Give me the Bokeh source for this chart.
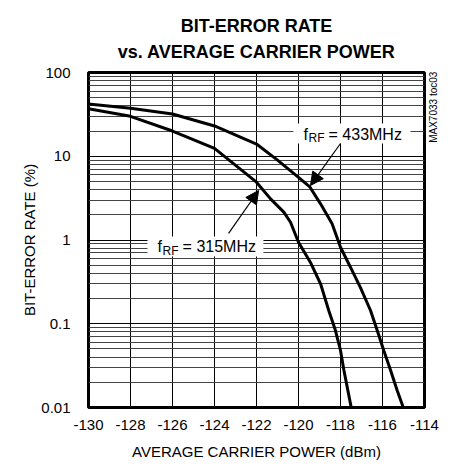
from bokeh.plotting import figure
from bokeh.models import (Range1d, FixedTicker, Label, Arrow, NormalHead, BoxAnnotation,
                          ColumnDataSource, Title, LinearAxis)
from bokeh.embed import file_html
from bokeh.resources import INLINE

# ---- data ----
power_315 = [-130, -128, -126, -124, -122, -121.33, -120.7, -120.38, -120.0, -119.43,
             -118.95, -118.56, -118.24, -118.0, -117.84, -117.65, -117.49]
ber_315 = [37, 30, 20, 12.4, 4.9, 3.1, 2.15, 1.63, 0.94, 0.54,
           0.30, 0.144, 0.083, 0.048, 0.028, 0.016, 0.01]

power_433 = [-130, -128, -126, -124, -122, -121, -120, -119.46, -118.95, -118.4,
             -118.0, -117.52, -117.05, -116.57, -116.25, -115.94, -115.62, -115.3, -115.01]
ber_433 = [42, 37.5, 32, 23, 14, 9.0, 5.6, 4.3, 2.7, 1.56,
           0.82, 0.47, 0.27, 0.144, 0.083, 0.048, 0.028, 0.016, 0.01]

x_ticks = [-130, -128, -126, -124, -122, -120, -118, -116, -114]
x_tick_labels = ["-130", "-128", "-126", "-124", "-122", "-120", "-118", "-116", "-114"]
y_ticks = [0.01, 0.1, 1, 10, 100]
y_tick_labels = ["0.01", "0.1", "1", "10", "100"]
y_minor = [m * d for d in [0.01, 0.1, 1, 10] for m in range(2, 10)]
title_lines = ["BIT-ERROR RATE", "vs. AVERAGE CARRIER POWER"]

FONT = "Liberation Sans"

p = figure(frame_width=336, frame_height=335,
           x_range=Range1d(-130, -114), y_range=Range1d(0.01, 100),
           y_axis_type="log", output_backend="svg", toolbar_location=None,
           min_border_left=88, min_border_right=16, min_border_top=72, min_border_bottom=55)
p.title = None

p.background_fill_color = "white"
p.border_fill_color = "white"
p.outline_line_color = "black"
p.outline_line_width = 3

# title
title_style = dict(align="center", text_font=FONT, text_font_size="18px",
                   text_font_style="bold", text_color="black")
if "text_align" in Title.properties():
    t = Title(text="\n".join(title_lines), standoff=17, text_line_height=1.28,
              vertical_align="top", **title_style)
    t.text_align = "center"
    p.add_layout(t, "above")
else:
    p.add_layout(Title(text=title_lines[1], standoff=27, **title_style), "above")
    p.add_layout(Title(text=title_lines[0], standoff=-4, **title_style), "above")

# axes
p.xaxis.ticker = FixedTicker(ticks=x_ticks)
p.xaxis.major_label_overrides = {v: s for v, s in zip(x_ticks, x_tick_labels)}
p.yaxis.ticker = FixedTicker(ticks=y_ticks, minor_ticks=y_minor)
p.yaxis.major_label_overrides = {v: s for v, s in zip(y_ticks, y_tick_labels)}
for ax in (p.xaxis[0], p.yaxis[0]):
    ax.axis_line_color = None
    ax.major_tick_line_color = None
    ax.minor_tick_line_color = None
    ax.major_label_text_font = FONT
    ax.major_label_text_font_size = "15px"
    ax.major_label_text_color = "black"
    ax.axis_label_text_font = FONT
    ax.axis_label_text_font_size = "15px"
    ax.axis_label_text_font_style = "normal"
    ax.axis_label_text_color = "black"
p.xaxis.axis_label = "AVERAGE CARRIER POWER (dBm)"
p.yaxis.axis_label = "BIT-ERROR RATE (%)"
p.xaxis.major_label_standoff = 6
p.yaxis.major_label_standoff = 12
p.xaxis.axis_label_standoff = 10
p.yaxis.axis_label_standoff = 0

# grids
p.xgrid.grid_line_color = "black"
p.xgrid.grid_line_width = 1
p.ygrid.grid_line_color = "black"
p.ygrid.grid_line_width = 1
p.ygrid.minor_grid_line_color = "#444444"
p.ygrid.minor_grid_line_width = 1

# white label boxes
p.add_layout(BoxAnnotation(left=-120.24, right=-114.67, bottom=14.2, top=24.6,
                           fill_color="white", fill_alpha=1, line_color=None))
p.add_layout(BoxAnnotation(left=-127.19, right=-121.67, bottom=0.635, top=1.10,
                           fill_color="white", fill_alpha=1, line_color=None))

# curves
src315 = ColumnDataSource(dict(x=power_315, y=ber_315))
src433 = ColumnDataSource(dict(x=power_433, y=ber_433))
p.line("x", "y", source=src315, line_color="black", line_width=3)
p.line("x", "y", source=src433, line_color="black", line_width=3)

# annotation labels: f_RF = ...
def add_freq_label(x, y, freq):
    p.add_layout(Label(x=x, y=y, text="f", text_font=FONT, text_font_size="16px",
                       text_align="left", text_baseline="middle", text_color="black"))
    p.add_layout(Label(x=x, y=y, text="RF", text_font=FONT, text_font_size="12px",
                       text_align="left", text_baseline="middle", text_color="black",
                       x_offset=5, y_offset=-4))
    p.add_layout(Label(x=x, y=y, text="= " + freq, text_font=FONT, text_font_size="16px",
                       text_align="left", text_baseline="middle", text_color="black",
                       x_offset=25))

add_freq_label(-119.76, 18.4, "433MHz")
add_freq_label(-126.71, 0.836, "315MHz")

# arrows
p.add_layout(Arrow(end=NormalHead(size=13, fill_color="black", line_color="black"),
                   x_start=-118.0, y_start=14.2, x_end=-119.43, y_end=4.48,
                   line_color="black", line_width=1.2))
p.add_layout(Arrow(end=NormalHead(size=13, fill_color="black", line_color="black"),
                   x_start=-123.33, y_start=1.2, x_end=-121.9, y_end=3.9,
                   line_color="black", line_width=1.2))

# side note as a tick label of a bare right axis
p.extra_y_ranges = {"note": Range1d(0, 1)}
note_axis = LinearAxis(y_range_name="note", ticker=FixedTicker(ticks=[0.89]),
                       major_label_overrides={0.89: "MAX7033 toc03"},
                       major_label_orientation=1.5708,
                       axis_line_color=None, major_tick_line_color=None,
                       minor_tick_line_color=None, major_label_standoff=3,
                       major_label_text_font=FONT, major_label_text_font_size="10px",
                       major_label_text_color="black")
p.add_layout(note_axis, "right")

open("out.html", "w").write(file_html(p, INLINE))
